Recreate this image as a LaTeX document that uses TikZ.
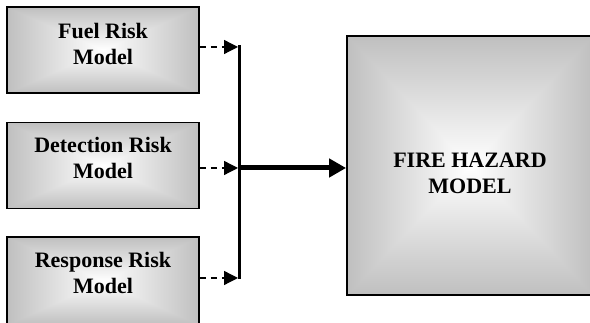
\documentclass[tikz,border=0pt]{standalone}
\usepackage{fontspec}
\setmainfont{Liberation Serif}
\usetikzlibrary{arrows.meta}
\pgfdeclarefunctionalshading{rectgrad}{\pgfpoint{0bp}{0bp}}{\pgfpoint{100bp}{100bp}}{}{
 50 sub abs exch 50 sub abs 2 copy lt {exch} if pop 25 div dup 1 gt {pop 1} if 0.25 mul 1 exch sub dup dup
}
\begin{document}
\begin{tikzpicture}[x=1pt,y=1pt,
  riskbox/.style={draw=black, line width=1.6pt, shading=rectgrad, minimum width=192pt, minimum height=86pt, inner sep=0pt},
  bigbox/.style={draw=black, line width=1.8pt, shading=rectgrad, minimum width=246pt, minimum height=259pt, inner sep=0pt},
  lbl/.style={font=\bfseries\fontsize{22}{26}\selectfont, align=center, inner sep=0pt},
  feed/.style={line width=1.3pt, dash pattern=on 6pt off 5pt, -{Triangle[length=14pt,width=14pt]}},
  bus/.style={line width=3pt},
  mainarrow/.style={line width=5pt, -{Triangle[length=17pt,width=18pt]}}]
\useasboundingbox (0,0) rectangle (590,323);
\clip (0,0) rectangle (590,323);
\fill[white] (0,0) rectangle (590,323);
% boxes
\node[riskbox] (fuel) at (103,273) {};
\node[lbl] (fuelt) at (103,279.5) {Fuel Risk\\Model};
\node[riskbox] (det) at (103,157.5) {};
\node[lbl] (dett) at (103,165) {Detection Risk\\Model};
\node[riskbox, minimum height=88pt] (resp) at (103,42) {};
\node[lbl] (respt) at (103,50) {Response Risk\\Model};
\node[bigbox] (fire) at (470,157.5) {};
\node[lbl] (firet) at (470,150) {FIRE HAZARD\\MODEL};
% bus
\coordinate (t1) at (238,276);
\coordinate (t2) at (238,155);
\coordinate (t3) at (238,45);
\coordinate (btop) at (239.5,277.5);
\coordinate (bbot) at (239.5,43.5);
\coordinate (bmid) at (239.5,155);
\draw[bus] (btop) -- (bbot);
\draw[feed] (fuel.east |- t1) -- (t1);
\draw[feed] (det.east |- t2) -- (t2);
\draw[feed] (resp.east |- t3) -- (t3);
\draw[mainarrow] (bmid) -- (fire.west |- bmid);
\end{tikzpicture}
\end{document}
